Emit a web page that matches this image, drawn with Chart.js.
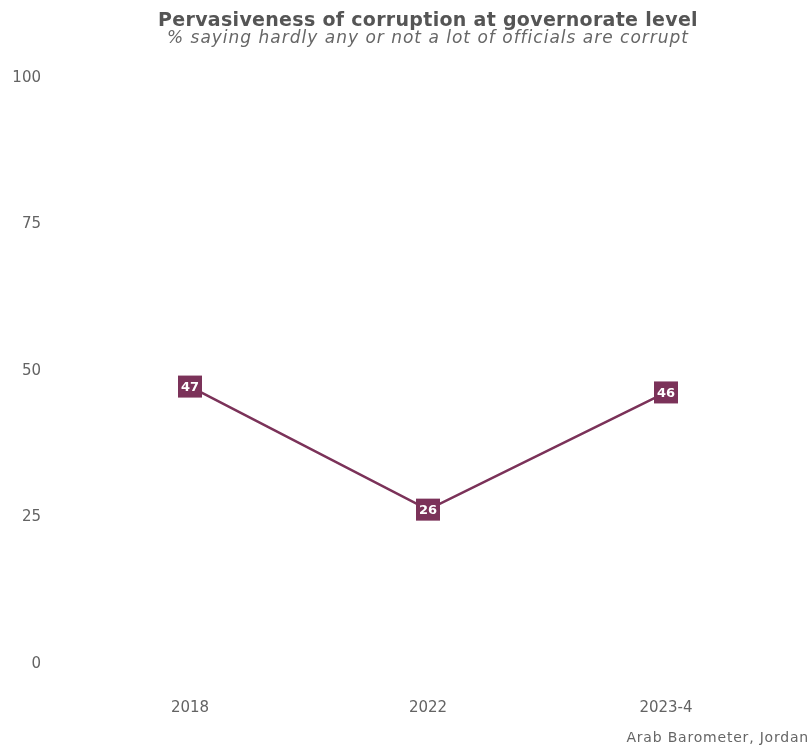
<!DOCTYPE html>
<html>
<head>
<meta charset="utf-8">
<script src="https://cdn.jsdelivr.net/npm/chart.js@4/dist/chart.umd.min.js"></script>
<style>
  html, body { margin: 0; padding: 0; background: #fff; }
  #wrap { width: 812px; height: 748px; }
</style>
</head>
<body>
<div id="wrap"><canvas id="corruptionChart" width="812" height="748"></canvas></div>
<script>
const years = ['2018', '2022', '2023-4'];
const sharePct = [47, 26, 46];
const yTicks = [0, 25, 50, 75, 100];

const titleText = 'Pervasiveness of corruption at governorate level';
const subtitleText = '% saying hardly any or not a lot of officials are corrupt';
const captionText = 'Arab Barometer, Jordan';

const lineColor = '#7b3259';
const fontFamily = '"DejaVu Sans", "Open Sans", sans-serif';

// titres centrés sur la zone du graphique + source en bas à droite
const textPlugin = {
    id: 'headerFooter',
    afterDraw(chart) {
        const { ctx, chartArea } = chart;
        const cx = (chartArea.left + chartArea.right) / 2;
        ctx.save();
        ctx.textAlign = 'center';
        ctx.textBaseline = 'alphabetic';
        ctx.fillStyle = '#555555';
        ctx.font = 'bold 19px ' + fontFamily;
        ctx.letterSpacing = '0.3px';
        ctx.fillText(titleText, cx, 26);
        ctx.fillStyle = '#666666';
        ctx.font = 'italic 17px ' + fontFamily;
        ctx.letterSpacing = '1px';
        ctx.fillText(subtitleText, cx, 43);
        ctx.textAlign = 'right';
        ctx.font = '14px ' + fontFamily;
        ctx.letterSpacing = '0.8px';
        ctx.fillStyle = '#666666';
        ctx.fillText(captionText, 809, 742);
        ctx.restore();
    }
};

// étiquettes de valeur dans un carré coloré
const valueBoxes = {
    id: 'valueBoxes',
    afterDatasetsDraw(chart) {
        const { ctx } = chart;
        const meta = chart.getDatasetMeta(0);
        ctx.save();
        ctx.font = 'bold 13px ' + fontFamily;
        ctx.textAlign = 'center';
        ctx.textBaseline = 'middle';
        meta.data.forEach((pt, i) => {
            const w = 24, h = 22;
            ctx.fillStyle = lineColor;
            ctx.fillRect(pt.x - w / 2, pt.y - h / 2, w, h);
            ctx.fillStyle = '#ffffff';
            ctx.fillText(String(sharePct[i]), pt.x, pt.y + 1);
        });
        ctx.restore();
    }
};

const ctx = document.getElementById('corruptionChart').getContext('2d');
new Chart(ctx, {
    type: 'line',
    data: {
        labels: years,
        datasets: [{
            data: sharePct,
            borderColor: lineColor,
            borderWidth: 2.5,
            pointRadius: 0,
            tension: 0,
            fill: false
        }]
    },
    options: {
        responsive: false,
        animation: false,
        layout: {
            padding: { top: 76, right: 27, bottom: 0, left: 0 }
        },
        scales: {
            x: {
                offset: true,
                grid: { display: false, drawTicks: false },
                border: { display: false },
                ticks: {
                    color: '#636363',
                    font: { family: fontFamily, size: 15 },
                    padding: 37
                },
                afterFit(scale) { scale.height = 86; }
            },
            y: {
                min: 0,
                max: 100,
                afterBuildTicks(scale) {
                    scale.ticks = yTicks.map(v => ({ value: v }));
                },
                grid: { display: false, drawTicks: false },
                border: { display: false },
                ticks: {
                    color: '#636363',
                    font: { family: fontFamily, size: 15 },
                    padding: 30,
                    labelOffset: 2
                },
                afterFit(scale) { scale.width = 71; }
            }
        },
        plugins: {
            legend: { display: false },
            title: { display: false },
            tooltip: { enabled: false }
        }
    },
    plugins: [textPlugin, valueBoxes]
});
</script>
</body>
</html>
